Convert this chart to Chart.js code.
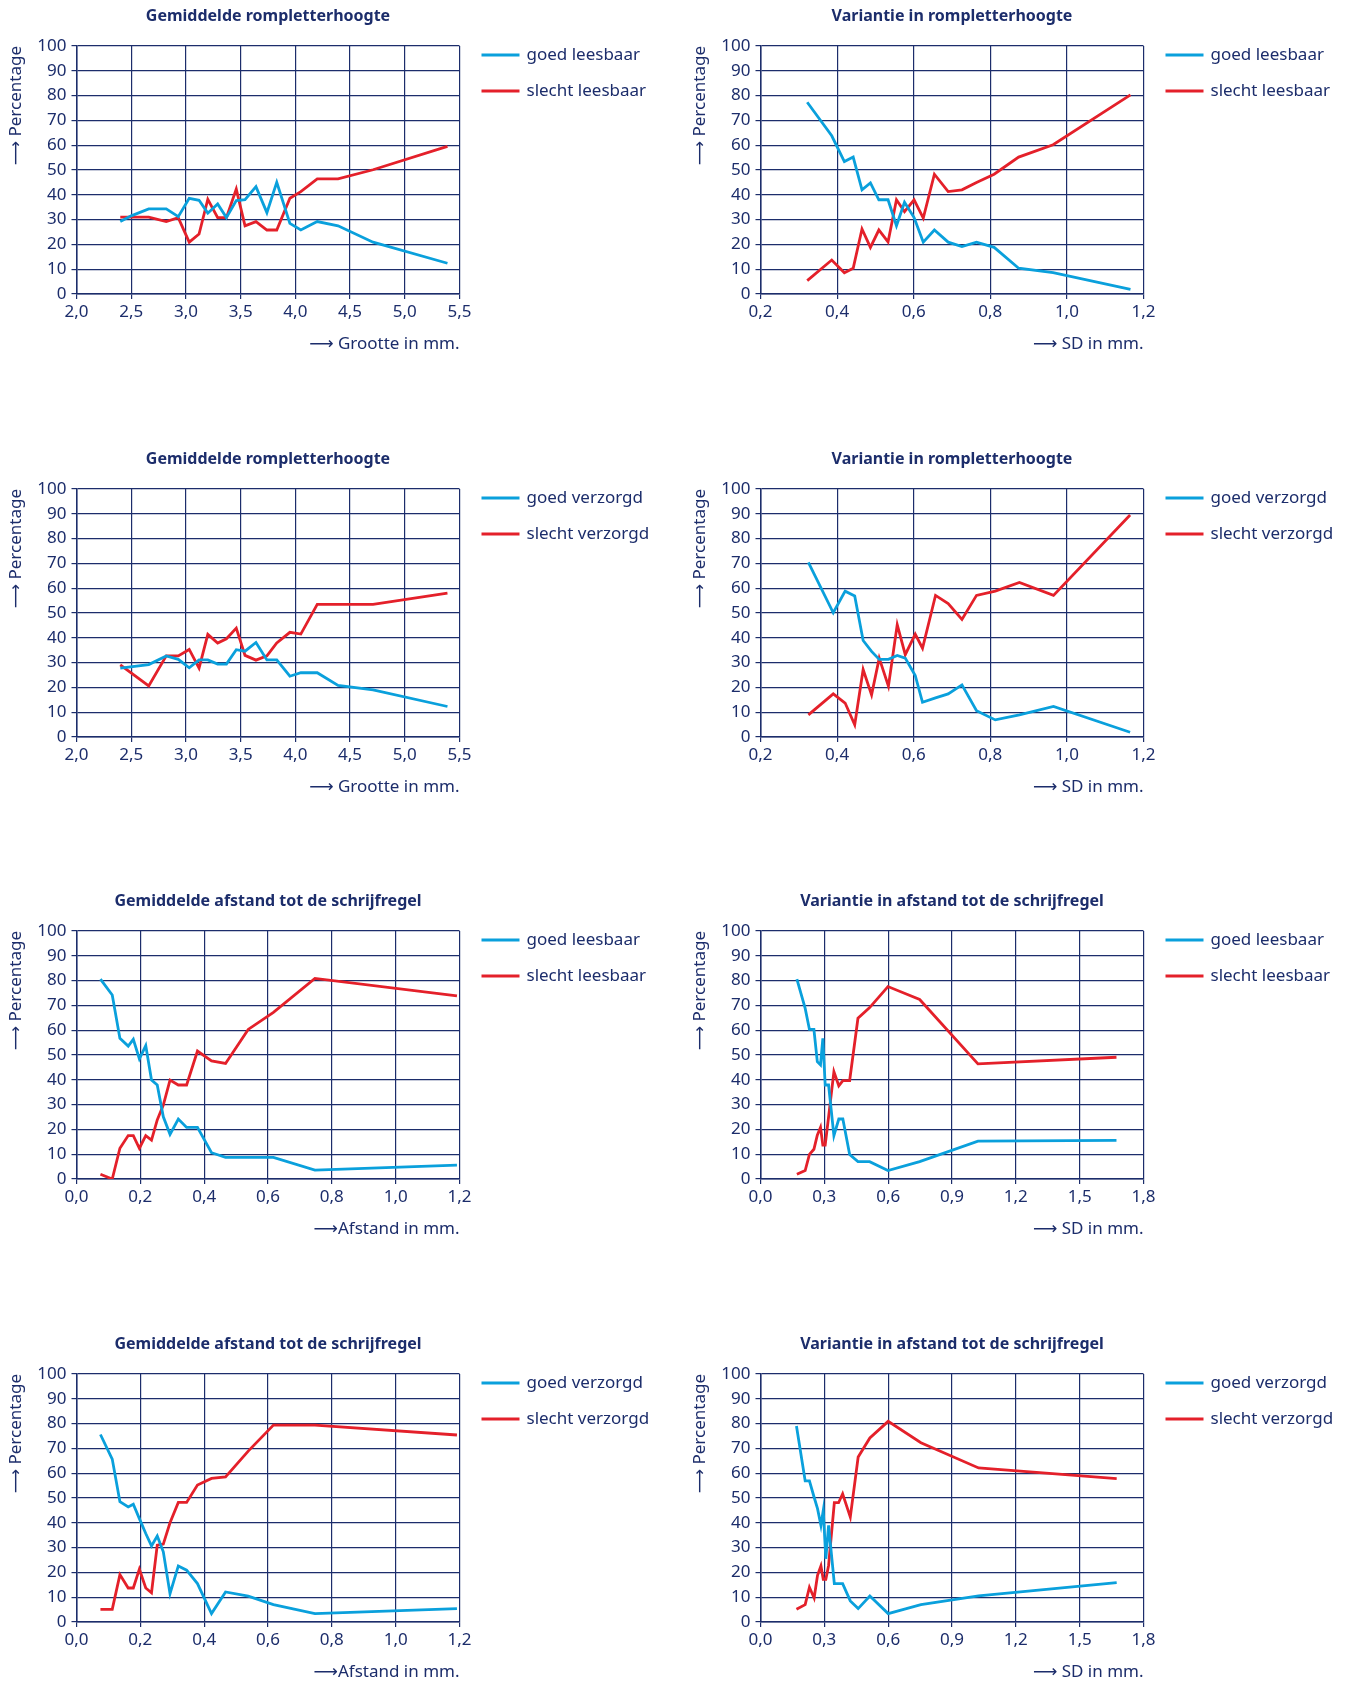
<!DOCTYPE html>
<html>
<head>
<meta charset="utf-8">
<script src="https://cdn.jsdelivr.net/npm/chart.js@4.4.1/dist/chart.umd.min.js"></script>
<style>
  html, body { margin: 0; padding: 0; background: #fff; overflow: hidden; }
  #wrap { position: relative; width: 1350px; height: 1681px; }
  canvas { position: absolute; }
</style>
</head>
<body>
<div id="wrap"></div>
<script>
// colours
const navy = '#1c2d6b';
const blue = '#0aa0dc';
const red = '#e4202a';

// panel 1 + 3: gemiddelde rompletterhoogte (mm)
const p1X = [2.40, 2.50, 2.66, 2.82, 2.93, 3.03, 3.12, 3.20, 3.29, 3.37, 3.46, 3.54, 3.64, 3.74, 3.83, 3.95, 4.05, 4.20, 4.39, 4.71, 5.39];
const p1Goed = [29.2, 31.5, 34.3, 34.3, 31.2, 38.6, 37.8, 32.6, 36.3, 30.8, 37.7, 38.0, 43.3, 32.8, 45.0, 28.5, 25.8, 29.2, 27.5, 20.9, 12.4];
const p1Slecht = [31.0, 31.0, 31.0, 29.2, 30.8, 20.9, 24.2, 38.2, 30.8, 30.8, 42.3, 27.5, 29.2, 25.8, 25.8, 38.6, 41.3, 46.4, 46.4, 50.1, 59.5];

const p3X = [2.40, 2.66, 2.82, 2.93, 3.03, 3.12, 3.20, 3.29, 3.37, 3.46, 3.54, 3.64, 3.74, 3.83, 3.95, 4.05, 4.20, 4.39, 4.71, 5.39];
const p3Goed = [27.8, 29.2, 32.7, 31.3, 27.9, 31.1, 31.1, 29.4, 29.4, 35.2, 34.6, 38.1, 31.1, 31.1, 24.5, 25.9, 25.9, 20.8, 19.0, 12.3];
const p3Slecht = [29.1, 20.6, 32.7, 32.7, 35.3, 27.8, 41.4, 37.9, 39.6, 43.9, 32.9, 31.0, 32.7, 37.9, 42.2, 41.5, 53.5, 53.5, 53.5, 58.0];

// panel 2 + 4: variantie in rompletterhoogte (SD)
const p2X = [0.322, 0.386, 0.419, 0.442, 0.465, 0.487, 0.509, 0.533, 0.555, 0.576, 0.601, 0.625, 0.654, 0.690, 0.726, 0.764, 0.810, 0.874, 0.964, 1.166];
const p2Goed = [77.3, 63.8, 53.4, 55.2, 42.0, 44.8, 38.0, 38.0, 27.5, 37.0, 30.8, 20.9, 25.8, 20.9, 19.1, 20.9, 18.8, 10.4, 8.6, 1.9];
const p2Slecht = [5.4, 13.7, 8.6, 10.4, 26.2, 18.8, 25.8, 21.0, 38.0, 33.2, 38.0, 30.6, 48.3, 41.3, 42.0, 45.0, 48.3, 55.2, 60.2, 80.3];

const p4X = [0.325, 0.390, 0.421, 0.446, 0.468, 0.490, 0.510, 0.534, 0.557, 0.578, 0.604, 0.623, 0.657, 0.690, 0.726, 0.764, 0.813, 0.876, 0.965, 1.165];
const p4Goed = [70.4, 50.1, 58.8, 56.9, 38.9, 34.5, 31.3, 31.3, 32.9, 31.8, 24.8, 14.0, 15.8, 17.4, 21.0, 10.6, 6.9, 8.9, 12.3, 1.9];
const p4Slecht = [8.9, 17.4, 13.7, 4.9, 27.2, 17.0, 31.8, 20.5, 45.3, 33.2, 41.5, 35.8, 57.1, 53.8, 47.4, 57.1, 58.8, 62.3, 57.1, 89.5];

// panel 5 + 7: gemiddelde afstand tot de schrijfregel
const p5X = [0.075, 0.112, 0.136, 0.162, 0.178, 0.197, 0.217, 0.235, 0.253, 0.272, 0.293, 0.319, 0.345, 0.379, 0.423, 0.467, 0.538, 0.617, 0.747, 1.192];
const p5Goed = [80.6, 74.2, 56.7, 53.6, 56.3, 48.4, 53.8, 39.9, 37.9, 25.1, 18.0, 24.2, 20.8, 20.8, 10.6, 8.7, 8.7, 8.7, 3.6, 5.6];
const p5Slecht = [1.9, 0.0, 12.4, 17.5, 17.5, 12.4, 17.5, 15.7, 23.8, 29.8, 39.9, 37.9, 37.9, 51.6, 47.6, 46.6, 60.3, 67.2, 80.9, 73.8];

const p7X = p5X;
const p7Goed = [75.6, 65.7, 48.5, 46.4, 47.5, 41.7, 35.7, 30.7, 34.7, 28.3, 11.4, 22.6, 20.9, 15.5, 3.4, 12.1, 10.4, 7.0, 3.4, 5.4];
const p7Slecht = [5.1, 5.1, 19.1, 13.7, 13.7, 21.3, 13.7, 11.8, 31.0, 31.4, 40.0, 48.2, 48.2, 55.2, 57.9, 58.5, 68.9, 79.4, 79.4, 75.4];

// panel 6 + 8: variantie in afstand tot de schrijfregel
const p6X = [0.171, 0.210, 0.230, 0.251, 0.267, 0.282, 0.293, 0.304, 0.320, 0.345, 0.368, 0.387, 0.419, 0.458, 0.513, 0.599, 0.748, 1.022, 1.673];
const p6Goed = [80.6, 68.8, 60.3, 60.3, 47.3, 46.0, 56.7, 37.9, 37.9, 17.5, 24.2, 24.2, 9.9, 7.0, 7.0, 3.4, 7.0, 15.3, 15.6];
const p6Slecht = [1.9, 3.4, 9.9, 12.0, 17.7, 20.8, 13.7, 13.7, 25.0, 43.3, 37.6, 39.7, 39.7, 64.8, 69.1, 77.6, 72.4, 46.4, 49.1];

const p8X = [0.169, 0.210, 0.230, 0.252, 0.268, 0.284, 0.295, 0.307, 0.320, 0.347, 0.367, 0.386, 0.422, 0.459, 0.514, 0.600, 0.754, 1.025, 1.674];
const p8Goed = [79.0, 56.9, 56.9, 50.3, 45.7, 39.0, 45.0, 25.5, 39.0, 15.5, 15.5, 15.5, 8.5, 5.4, 10.5, 3.4, 7.0, 10.5, 15.9];
const p8Slecht = [5.1, 7.0, 14.0, 9.7, 18.8, 22.6, 17.2, 17.2, 22.8, 48.1, 48.1, 51.7, 42.3, 66.5, 74.2, 80.9, 72.3, 62.1, 57.8];

const yTicks = [0, 10, 20, 30, 40, 50, 60, 70, 80, 90, 100];

Chart.defaults.font.family = '"Noto Sans", "DejaVu Sans", sans-serif';
Chart.defaults.font.size = 17;
Chart.defaults.color = navy;

// title above the plot + legend to the right of it
const panelText = {
  id: 'panelText',
  afterDraw(chart, args, opts) {
    const ctx = chart.ctx;
    const a = chart.chartArea;
    ctx.save();
    ctx.fillStyle = navy;
    ctx.font = 'bold 16px "Noto Sans", sans-serif';
    ctx.textAlign = 'center';
    ctx.textBaseline = 'middle';
    ctx.fillText(opts.title, (a.left + a.right) / 2, a.top - 30);
    ctx.font = '17px "Noto Sans", sans-serif';
    ctx.textAlign = 'left';
    chart.data.datasets.forEach((ds, i) => {
      const y = a.top + 9 + i * 36;
      ctx.strokeStyle = ds.borderColor;
      ctx.lineWidth = 3;
      ctx.beginPath();
      ctx.moveTo(a.right + 22, y);
      ctx.lineTo(a.right + 60, y);
      ctx.stroke();
      ctx.fillText(ds.label, a.right + 67, y);
    });
    ctx.restore();
  }
};

function pts(xs, ys) {
  return xs.map((x, i) => ({ x: x, y: ys[i] }));
}

function makePanel(left, top, p) {
  const c = document.createElement('canvas');
  c.width = 666;
  c.height = 354;
  c.style.left = left + 'px';
  c.style.top = top + 'px';
  document.getElementById('wrap').appendChild(c);

  return new Chart(c, {
    type: 'line',
    data: {
      datasets: [
        { label: p.labels[0], data: pts(p.x, p.goed), borderColor: blue, backgroundColor: blue },
        { label: p.labels[1], data: pts(p.x, p.slecht), borderColor: red, backgroundColor: red }
      ]
    },
    options: {
      responsive: false,
      animation: false,
      layout: { padding: { top: 46, left: 6, right: 206.5, bottom: 0 } },
      elements: {
        line: { borderWidth: 2.8, tension: 0, fill: false },
        point: { radius: 0 }
      },
      plugins: {
        legend: { display: false },
        tooltip: { enabled: false },
        panelText: { title: p.title }
      },
      scales: {
        x: {
          type: 'linear',
          min: p.min,
          max: p.max,
          afterFit: s => { s.height = 60; },
          ticks: {
            stepSize: p.step,
            autoSkip: false,
            maxRotation: 0,
            padding: 3,
            callback: v => v.toFixed(1).replace('.', ',')
          },
          grid: { color: navy, lineWidth: 1.2, tickLength: 5, tickColor: navy },
          border: { color: navy, width: 1.5 },
          title: { display: true, text: p.xTitle, align: 'end', padding: 0, font: { size: 17 } }
        },
        y: {
          min: 0,
          max: 100,
          afterFit: s => { s.width = 70.5; },
          afterBuildTicks: s => { s.ticks = yTicks.map(v => ({ value: v })); },
          ticks: { padding: 5 },
          grid: { color: navy, lineWidth: 1.2, tickLength: 5, tickColor: navy },
          border: { color: navy, width: 1.5 },
          title: { display: true, text: '\u27F6 Percentage', align: 'end', padding: 0, font: { size: 17 } }
        }
      }
    },
    plugins: [panelText]
  });
}

const leesbaar = ['goed leesbaar', 'slecht leesbaar'];
const verzorgd = ['goed verzorgd', 'slecht verzorgd'];
const rowTop = [0, 443, 885, 1328];
const colLeft = [0, 684];

makePanel(colLeft[0], rowTop[0], { title: 'Gemiddelde rompletterhoogte', labels: leesbaar, x: p1X, goed: p1Goed, slecht: p1Slecht, min: 2, max: 5.5, step: 0.5, xTitle: '\u27F6 Grootte in mm.' });
makePanel(colLeft[1], rowTop[0], { title: 'Variantie in rompletterhoogte', labels: leesbaar, x: p2X, goed: p2Goed, slecht: p2Slecht, min: 0.2, max: 1.2, step: 0.2, xTitle: '\u27F6 SD in mm.' });
makePanel(colLeft[0], rowTop[1], { title: 'Gemiddelde rompletterhoogte', labels: verzorgd, x: p3X, goed: p3Goed, slecht: p3Slecht, min: 2, max: 5.5, step: 0.5, xTitle: '\u27F6 Grootte in mm.' });
makePanel(colLeft[1], rowTop[1], { title: 'Variantie in rompletterhoogte', labels: verzorgd, x: p4X, goed: p4Goed, slecht: p4Slecht, min: 0.2, max: 1.2, step: 0.2, xTitle: '\u27F6 SD in mm.' });
makePanel(colLeft[0], rowTop[2], { title: 'Gemiddelde afstand tot de schrijfregel', labels: leesbaar, x: p5X, goed: p5Goed, slecht: p5Slecht, min: 0, max: 1.2, step: 0.2, xTitle: '\u27F6Afstand in mm.' });
makePanel(colLeft[1], rowTop[2], { title: 'Variantie in afstand tot de schrijfregel', labels: leesbaar, x: p6X, goed: p6Goed, slecht: p6Slecht, min: 0, max: 1.8, step: 0.3, xTitle: '\u27F6 SD in mm.' });
makePanel(colLeft[0], rowTop[3], { title: 'Gemiddelde afstand tot de schrijfregel', labels: verzorgd, x: p7X, goed: p7Goed, slecht: p7Slecht, min: 0, max: 1.2, step: 0.2, xTitle: '\u27F6Afstand in mm.' });
makePanel(colLeft[1], rowTop[3], { title: 'Variantie in afstand tot de schrijfregel', labels: verzorgd, x: p8X, goed: p8Goed, slecht: p8Slecht, min: 0, max: 1.8, step: 0.3, xTitle: '\u27F6 SD in mm.' });
</script>
</body>
</html>
